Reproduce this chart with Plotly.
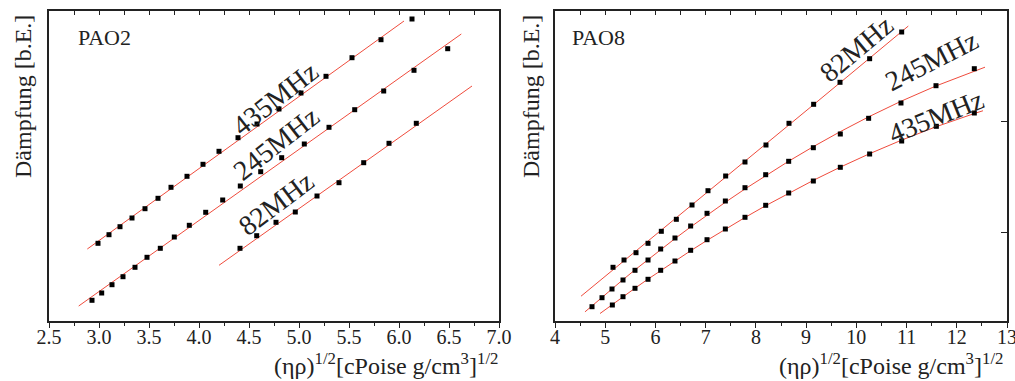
import numpy as np
import plotly.graph_objects as go

# ---------------- data: PAO2 (left) ----------------
pao2_435_x = [2.99, 3.10, 3.21, 3.33, 3.46, 3.59, 3.72, 3.88, 4.04, 4.20, 4.39, 4.58, 4.80, 5.02, 5.27, 5.53, 5.82, 6.13]
pao2_435_y = [0.777, 0.863, 0.943, 1.03, 1.123, 1.227, 1.337, 1.447, 1.567, 1.697, 1.833, 1.97, 2.12, 2.28, 2.447, 2.633, 2.813, 3.02]
pao2_245_x = [2.93, 3.027, 3.13, 3.24, 3.36, 3.48, 3.613, 3.753, 3.903, 4.067, 4.237, 4.413, 4.617, 4.827, 5.053, 5.30, 5.557, 5.847, 6.15, 6.487]
pao2_245_y = [0.207, 0.28, 0.363, 0.443, 0.537, 0.637, 0.727, 0.84, 0.957, 1.087, 1.21, 1.35, 1.493, 1.633, 1.77, 1.937, 2.113, 2.30, 2.507, 2.723]
pao2_82_x = [4.41, 4.577, 4.77, 4.963, 5.18, 5.40, 5.647, 5.90, 6.173]
pao2_82_y = [0.727, 0.853, 0.987, 1.09, 1.25, 1.383, 1.583, 1.777, 1.977]

# fitted straight lines (end points)
pao2_435_fit_x = [2.883, 6.05]
pao2_435_fit_y = [0.72, 3.00]
pao2_245_fit_x = [2.797, 6.623]
pao2_245_fit_y = [0.15, 2.87]
pao2_82_fit_x = [4.20, 6.73]
pao2_82_fit_y = [0.557, 2.35]

# ---------------- data: PAO8 (right) ----------------
pao8_82_x = [5.155, 5.374, 5.613, 5.852, 6.117, 6.416, 6.728, 7.046, 7.398, 7.783, 8.201, 8.659, 9.15, 9.675, 10.265, 10.903]
pao8_82_y = [0.537, 0.61, 0.683, 0.777, 0.897, 1.017, 1.16, 1.303, 1.45, 1.59, 1.76, 1.977, 2.167, 2.387, 2.623, 2.89]
pao8_245_x = [4.737, 4.936, 5.135, 5.354, 5.593, 5.852, 6.104, 6.389, 6.701, 7.027, 7.392, 7.783, 8.195, 8.653, 9.144, 9.681, 10.245, 10.889, 11.586, 12.349]
pao8_245_y = [0.143, 0.233, 0.32, 0.41, 0.507, 0.61, 0.72, 0.83, 0.95, 1.077, 1.20, 1.333, 1.463, 1.597, 1.733, 1.87, 2.027, 2.18, 2.353, 2.523]
pao8_435_x = [5.142, 5.354, 5.593, 5.852, 6.104, 6.389, 6.701, 7.027, 7.392, 7.783, 8.195, 8.653, 9.144, 9.681, 10.265, 10.903, 11.593, 12.349]
pao8_435_y = [0.16, 0.243, 0.327, 0.417, 0.507, 0.60, 0.707, 0.813, 0.92, 1.037, 1.157, 1.28, 1.40, 1.537, 1.67, 1.80, 1.947, 2.08]
# x extent of fitted curves
pao8_82_fit_ends = [4.518, 11.035]
pao8_245_fit_ends = [4.597, 12.562]
pao8_435_fit_ends = [4.896, 12.522]

# axis ticks / labels
left_x_ticks = [2.5, 3.0, 3.5, 4.0, 4.5, 5.0, 5.5, 6.0, 6.5, 7.0]
right_x_ticks = [4, 5, 6, 7, 8, 9, 10, 11, 12, 13]
right_y_ticks = [0.89, 2.0]

RED = "#ef4b3c"
FONT = "Liberation Serif, serif"
TXT = "#222222"

fig = go.Figure()


def fit_curve(xs, ys, ends, deg=2):
    c = np.polyfit(xs, ys, deg)
    fx = [ends[0]] + list(xs) + [ends[1]]
    return fx, list(np.polyval(c, fx))


def add_series(x, y, fx, fy, xa, ya):
    fig.add_trace(go.Scatter(x=fx, y=fy, mode="lines", line=dict(color=RED, width=1),
                             xaxis=xa, yaxis=ya, showlegend=False, hoverinfo="skip"))
    fig.add_trace(go.Scatter(x=x, y=y, mode="markers",
                             marker=dict(symbol="square", size=5, color="black", line=dict(width=0)),
                             xaxis=xa, yaxis=ya, showlegend=False))


add_series(pao2_435_x, pao2_435_y, pao2_435_fit_x, pao2_435_fit_y, "x", "y")
add_series(pao2_245_x, pao2_245_y, pao2_245_fit_x, pao2_245_fit_y, "x", "y")
add_series(pao2_82_x, pao2_82_y, pao2_82_fit_x, pao2_82_fit_y, "x", "y")

for xs, ys, ends in [(pao8_82_x, pao8_82_y, pao8_82_fit_ends),
                     (pao8_245_x, pao8_245_y, pao8_245_fit_ends),
                     (pao8_435_x, pao8_435_y, pao8_435_fit_ends)]:
    fx, fy = fit_curve(xs, ys, ends)
    add_series(xs, ys, fx, fy, "x2", "y2")

# dummy traces to activate the overlay axes
fig.add_trace(go.Scatter(x=[None], y=[None], xaxis="x3", yaxis="y", showlegend=False))
fig.add_trace(go.Scatter(x=[None], y=[None], xaxis="x4", yaxis="y2", showlegend=False))
fig.add_trace(go.Scatter(x=[None], y=[None], xaxis="x2", yaxis="y3", showlegend=False))

YR = [0, 3.1]
LDOM = [49 / 1015, 499 / 1015]
RDOM = [555 / 1015, 1007 / 1015]
YDOM = [60 / 381, 370 / 381]
LC = "#222222"

common_x = dict(showline=True, linecolor=LC, linewidth=1.5, showgrid=False, zeroline=False,
                ticks="outside", ticklen=5, tickwidth=1.2, tickcolor=LC, automargin=False,
                ticklabeloverflow="allow", ticklabelstandoff=-8,
                tickfont=dict(family=FONT, size=20, color=TXT))

fig.update_layout(
    width=1015, height=381,
    margin=dict(l=0, r=0, t=0, b=0, autoexpand=False),
    paper_bgcolor="white", plot_bgcolor="white",
    xaxis=dict(domain=LDOM, range=[2.5, 7.0], anchor="y", tickvals=left_x_ticks,
               ticktext=[f"{v:.1f}" for v in left_x_ticks],
               minor=dict(dtick=0.25, tick0=2.5, ticks="outside", ticklen=3, tickcolor=LC, tickwidth=1.2),
               **common_x),
    xaxis2=dict(domain=RDOM, range=[4, 13], anchor="y2", tickvals=right_x_ticks,
                ticktext=[str(v) for v in right_x_ticks],
                minor=dict(dtick=0.5, tick0=4, ticks="outside", ticklen=3, tickcolor=LC, tickwidth=1.2),
                **common_x),
    xaxis3=dict(overlaying="x", side="top", anchor="y", range=[2.5, 7.0], showline=True, linecolor=LC,
                linewidth=1.5, ticks="inside", ticklen=4, tickcolor=LC, tickwidth=1.2,
                tickvals=left_x_ticks, showticklabels=False, showgrid=False, zeroline=False,
                minor=dict(dtick=0.25, tick0=2.5, ticks="inside", ticklen=4, tickcolor=LC, tickwidth=1.2)),
    xaxis4=dict(overlaying="x2", side="top", anchor="y2", range=[4, 13], showline=True, linecolor=LC,
                linewidth=1.5, ticks="inside", ticklen=4, tickcolor=LC, tickwidth=1.2,
                tickvals=right_x_ticks, showticklabels=False, showgrid=False, zeroline=False,
                minor=dict(dtick=0.5, tick0=4, ticks="inside", ticklen=4, tickcolor=LC, tickwidth=1.2)),
    yaxis=dict(domain=YDOM, range=YR, anchor="x", showline=True, mirror=True, linecolor=LC, linewidth=1.5,
               showticklabels=False, ticks="", showgrid=False, zeroline=False),
    yaxis2=dict(domain=YDOM, range=YR, anchor="x2", showline=True, mirror=True, linecolor=LC, linewidth=1.5,
                showticklabels=False, ticks="", showgrid=False, zeroline=False),
    yaxis3=dict(overlaying="y2", side="right", anchor="x2", range=YR, showline=False,
                ticks="inside", ticklen=6, tickcolor=LC, tickwidth=1.2, tickvals=right_y_ticks,
                showticklabels=False, showgrid=False, zeroline=False),
)

ann = []
# panel names
ann.append(dict(text="PAO2", x=2.77, y=2.83, xref="x", yref="y", xanchor="left", yanchor="middle",
                showarrow=False, font=dict(family=FONT, size=22, color=TXT)))
ann.append(dict(text="PAO8", x=4.30, y=2.83, xref="x2", yref="y2", xanchor="left", yanchor="middle",
                showarrow=False, font=dict(family=FONT, size=22, color=TXT)))
# frequency labels
for txt, x, y, ang, xr, yr in [("435MHz", 4.76, 2.23, -38, "x", "y"),
                                ("245MHz", 4.77, 1.78, -38, "x", "y"),
                                ("82MHz", 4.77, 1.18, -37, "x", "y"),
                                ("82MHz", 10.01, 2.72, -40, "x2", "y2"),
                                ("245MHz", 11.51, 2.60, -27, "x2", "y2"),
                                ("435MHz", 11.59, 2.05, -22, "x2", "y2")]:
    ann.append(dict(text=txt, x=x, y=y, xref=xr, yref=yr, textangle=ang, showarrow=False,
                    xanchor="center", yanchor="middle", font=dict(family=FONT, size=28, color=TXT)))
# axis titles
xt = "(ηρ)<sup>1/2</sup>[cPoise g/cm<sup>3</sup>]<sup>1/2</sup>"
ann.append(dict(text=xt, x=500 / 1015, y=(381 - 364) / 381, xref="paper", yref="paper",
                xanchor="right", yanchor="middle", showarrow=False, font=dict(family=FONT, size=24, color=TXT)))
ann.append(dict(text=xt, x=1005 / 1015, y=(381 - 364) / 381, xref="paper", yref="paper",
                xanchor="right", yanchor="middle", showarrow=False, font=dict(family=FONT, size=24, color=TXT)))
yt = "Dämpfung [b.E.]"
ann.append(dict(text=yt, x=23 / 1015, y=(381 - 97) / 381, xref="paper", yref="paper", textangle=-90,
                xanchor="center", yanchor="middle", showarrow=False, font=dict(family=FONT, size=24, color=TXT)))
ann.append(dict(text=yt, x=531 / 1015, y=(381 - 97) / 381, xref="paper", yref="paper", textangle=-90,
                xanchor="center", yanchor="middle", showarrow=False, font=dict(family=FONT, size=24, color=TXT)))
fig.update_layout(annotations=ann)

fig.write_html("out.html", config={"displayModeBar": False},
               post_script="document.body.style.margin='0';document.body.style.overflow='hidden';")
